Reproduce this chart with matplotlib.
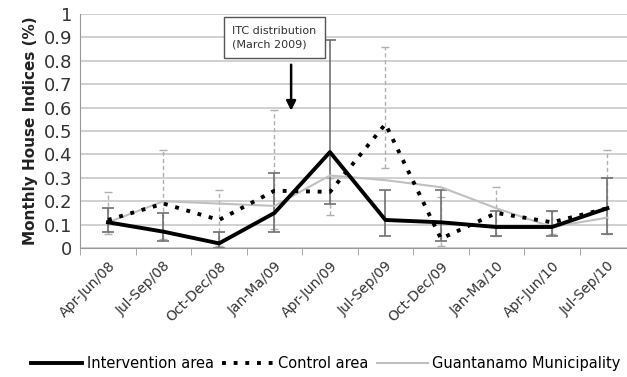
import numpy as np
import matplotlib.pyplot as plt
from matplotlib.ticker import FixedLocator, FuncFormatter

# 資料
periods = ['Apr-Jun/08', 'Jul-Sep/08', 'Oct-Dec/08', 'Jan-Ma/09', 'Apr-Jun/09',
           'Jul-Sep/09', 'Oct-Dec/09', 'Jan-Ma/10', 'Apr-Jun/10', 'Jul-Sep/10']
intervention = [0.11, 0.07, 0.02, 0.15, 0.41, 0.12, 0.11, 0.09, 0.09, 0.17]
interv_low = [0.07, 0.03, 0.00, 0.07, 0.19, 0.05, 0.03, 0.05, 0.05, 0.06]
interv_high = [0.17, 0.15, 0.07, 0.32, 0.89, 0.25, 0.25, 0.16, 0.16, 0.30]
control = [0.12, 0.19, 0.12, 0.245, 0.24, 0.53, 0.04, 0.15, 0.11, 0.17]
ctrl_low = [0.06, 0.04, 0.01, 0.08, 0.14, 0.34, 0.01, 0.05, 0.06, 0.06]
ctrl_high = [0.24, 0.42, 0.25, 0.59, 0.30, 0.86, 0.22, 0.26, 0.16, 0.42]
guantanamo = [0.11, 0.20, 0.19, 0.18, 0.31, 0.29, 0.26, 0.17, 0.09, 0.13]

x = np.arange(len(periods))

fig = plt.figure(figsize=(6.27, 3.77), dpi=100)
ax = fig.add_axes([0.128, 0.342, 0.885, 0.621])

# 格線
ax.set_ylim(0, 1)
ax.set_xlim(-0.5, 9.5)
ax.yaxis.set_major_locator(FixedLocator(np.arange(0, 1.01, 0.1)))
ax.yaxis.set_major_formatter(FuncFormatter(lambda v, p: f'{v:.1f}'.rstrip('0').rstrip('.') if v else '0'))
ax.grid(axis='y', color='#c8c8c8', linewidth=1.2)
ax.set_axisbelow(True)

# 誤差棒
e = ax.errorbar(x, control,
                yerr=[np.array(control) - ctrl_low, np.array(ctrl_high) - control],
                fmt='none', ecolor='#b0b0b0', elinewidth=1, capsize=3, capthick=1)
e[2][0].set_linestyle((0, (3, 2)))
ax.errorbar(x, intervention,
            yerr=[np.array(intervention) - interv_low, np.array(interv_high) - intervention],
            fmt='none', ecolor='#707070', elinewidth=1.2, capsize=4, capthick=1.2)

# 線
ax.plot(x, guantanamo, color='#c0c0c0', linewidth=1.5, label='Guantanamo Municipality')
ax.plot(x, control, color='black', linestyle=(0, (1, 2)), linewidth=2.8,
        label='Control area')
ax.plot(x, intervention, color='black', linewidth=2.8, label='Intervention area')

# 注釋
ax.annotate('', xy=(3.3, 0.575), xytext=(3.3, 0.795),
            arrowprops=dict(arrowstyle='-|>', color='black', lw=1.8, mutation_scale=14))
ax.text(2.24, 0.95, 'ITC distribution\n(March 2009)', fontsize=8, va='top', ha='left',
        linespacing=1.5, color='#333333', zorder=5,
        bbox=dict(boxstyle='square,pad=0.75', fc='white', ec='#555555', lw=1))

# 軸
ax.set_xticks(x)
ax.set_xticklabels(periods, rotation=45, ha='right', rotation_mode='anchor',
                   fontsize=10, color='#333333')
ax.set_xticks(np.arange(-0.5, 9.6, 1), minor=True)
ax.tick_params(axis='x', which='major', length=0, pad=8)
ax.tick_params(axis='x', which='minor', length=5, color='#999999')
ax.tick_params(axis='y', length=0, labelsize=13, colors='#333333', pad=6)
ax.set_ylabel('Monthly House Indices (%)', fontsize=11, fontweight='bold', color='#222222')
for s in ['top', 'right']:
    ax.spines[s].set_visible(False)
ax.spines['left'].set_color('#999999')
ax.spines['bottom'].set_color('#999999')

handles, labels = ax.get_legend_handles_labels()
fig.legend(handles[::-1], labels[::-1], loc='lower center', bbox_to_anchor=(0.52, -0.02),
           ncol=3, frameon=False, fontsize=10.5, handlelength=3.5, columnspacing=0.6,
           handletextpad=0.3)

fig.savefig('out.png', dpi=100)
